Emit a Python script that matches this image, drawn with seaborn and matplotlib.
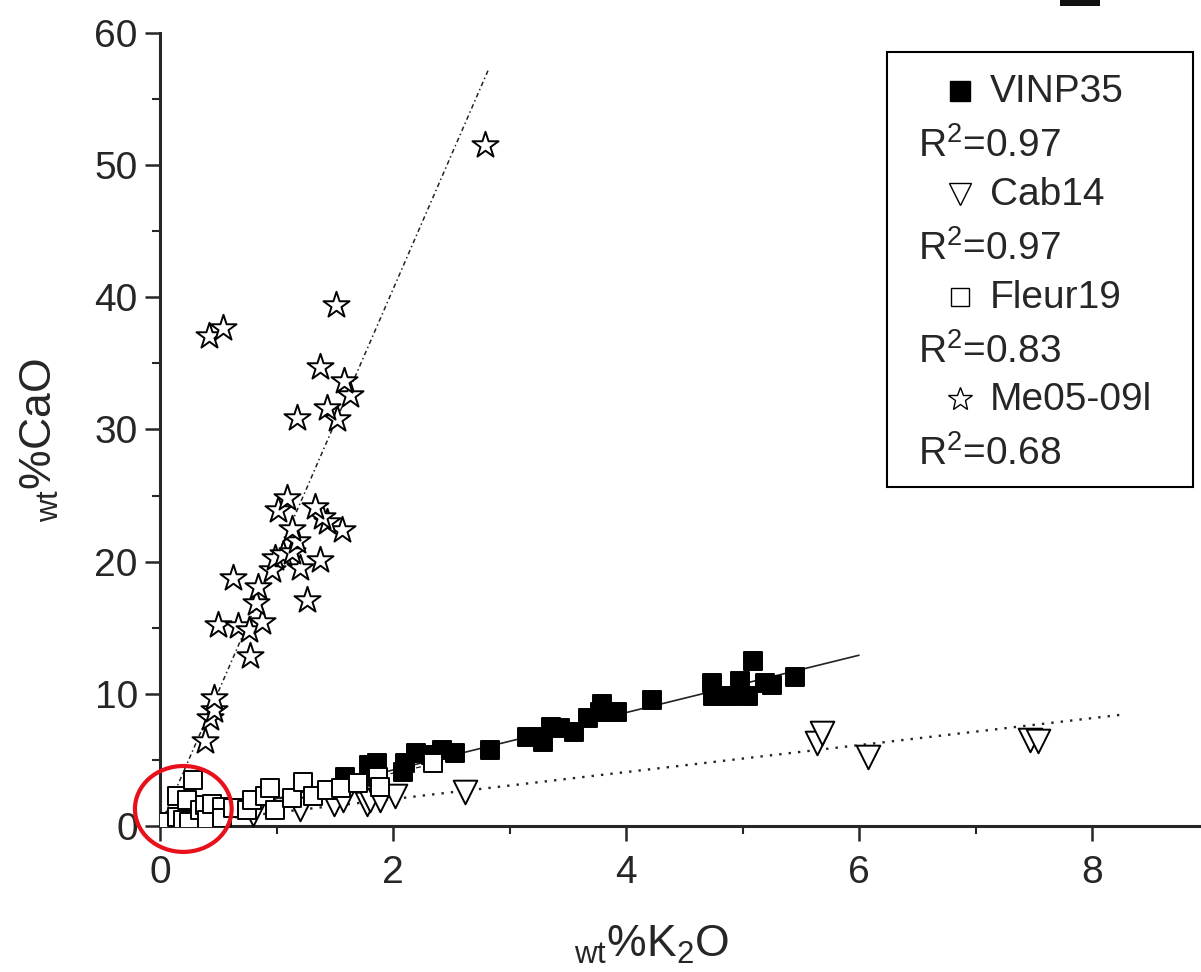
#%%
# CaO vs K2O scatter with linear fits for four sample sets
import numpy as np
import matplotlib.pyplot as plt
import seaborn as sns
from matplotlib.patches import Ellipse, Rectangle

sns.set_style('ticks')
plt.rcParams.update({'font.family': ['Liberation Sans', 'DejaVu Sans'],
                     'mathtext.fontset': 'custom', 'mathtext.rm': 'Liberation Sans',
                     'mathtext.it': 'Liberation Sans:italic', 'mathtext.bf': 'Liberation Sans:bold',
                     'axes.linewidth': 2.2, 'axes.spines.top': False, 'axes.spines.right': False,
                     'xtick.direction': 'out', 'ytick.direction': 'out'})

#%% data

vinp_k2o = [1.59, 1.79, 1.86, 2.09, 2.10, 2.20, 2.33, 2.42, 2.53, 2.83, 3.15, 3.28, 3.29, 3.36, 3.43,
            3.55, 3.67, 3.78, 3.79, 3.92, 4.22, 4.74, 4.75, 4.88, 4.98, 5.05, 5.09, 5.19, 5.25, 5.45]
vinp_cao = [3.7, 4.6, 4.8, 4.1, 4.8, 5.5, 5.4, 5.75, 5.5, 5.75, 6.7, 6.7, 6.35, 7.5, 7.4,
            7.1, 8.2, 8.6, 9.2, 8.6, 9.5, 10.8, 9.8, 9.8, 11.0, 9.8, 12.5, 10.8, 10.7, 11.3]

cab_k2o = [0.8, 1.2, 1.49, 1.57, 1.78, 1.80, 1.89, 2.02, 2.62, 5.64, 5.68, 6.08, 7.47, 7.54]
cab_cao = [0.9, 1.3, 1.7, 2.0, 1.7, 2.0, 2.0, 2.3, 2.6, 6.3, 7.0, 5.2, 6.5, 6.4]

fleur_k2o = [0.06, 0.15, 0.15, 0.20, 0.23, 0.25, 0.28, 0.34, 0.39, 0.40, 0.45, 0.53, 0.53, 0.63,
             0.75, 0.79, 0.90, 0.94, 0.99, 1.13, 1.23, 1.31, 1.43, 1.55, 1.70, 1.87, 1.89, 2.34]
fleur_cao = [0.3, 2.3, 0.7, 0.45, 2.0, 0.3, 3.5, 1.2, 1.6, 0.45, 1.7, 1.4, 0.6, 1.35,
             1.2, 2.0, 2.3, 2.9, 1.2, 2.1, 3.3, 2.3, 2.7, 2.9, 3.25, 3.7, 2.95, 4.75]

me_k2o = [0.39, 0.43, 0.46, 0.46, 0.50, 0.67, 0.76, 0.77, 0.875, 0.82, 0.84, 1.26, 0.63, 0.96,
          1.20, 1.37, 0.99, 1.06, 1.13, 1.18, 1.13, 1.56, 1.43, 1.39, 1.33, 1.01, 1.09,
          1.18, 1.52, 1.43, 1.63, 1.58, 1.37, 1.51, 0.42, 0.54, 2.79]
me_cao = [6.4, 8.2, 8.8, 9.7, 15.2, 15.1, 14.8, 12.9, 15.4, 16.9, 18.1, 17.1, 18.8, 19.4,
          19.5, 20.1, 20.3, 20.6, 20.7, 21.6, 22.5, 22.4, 23.0, 23.4, 24.1, 23.9, 24.8,
          30.9, 30.8, 31.6, 32.6, 33.7, 34.7, 39.4, 37.1, 37.7, 51.5]

# fitted lines: slope, intercept, x range
fit_slope = [2.17, 1.02, 2.0, 20.3]
fit_icpt = [-0.1, 0.0, 0.0, 0.0]
fit_xmax = [6.0, 8.25, 2.4, 2.82]

series_names = ['VINP35', 'Cab14', 'Fleur19', 'Me05-09l']
r2_labels = ['0.97', '0.97', '0.83', '0.68']

#%% plot

W, H = 1201, 972
fig = plt.figure(figsize=(W / 100, H / 100), dpi=100)
ax = fig.add_axes([160 / W, 1 - 826 / H, 1 - 160 / W, (826 - 33) / H])

def px(x, y):
    return x / W, 1 - y / H

styles = [dict(marker='s', s=180, color='black', edgecolor='black'),
          dict(marker='v', s=290, color='white', edgecolor='black'),
          dict(marker='s', s=175, color='white', edgecolor='black'),
          dict(marker='*', s=390, color='white', edgecolor='black')]
line_styles = [dict(ls='-', lw=1.2), dict(ls=(0, (1, 3)), lw=1.7), dict(ls=(0, (4, 3)), lw=0.9),
               dict(ls=(0, (3, 2, 1, 2)), lw=1.1)]

xs = [vinp_k2o, cab_k2o, fleur_k2o, me_k2o]
ys = [vinp_cao, cab_cao, fleur_cao, me_cao]

for i in range(4):
    xl = np.array([0.0, fit_xmax[i]])
    ax.plot(xl, fit_slope[i] * xl + fit_icpt[i], color='#222222', zorder=2, **line_styles[i])

for i in [0, 1, 3, 2]:
    sns.scatterplot(x=xs[i], y=ys[i], ax=ax, linewidth=1.4, zorder=3, legend=False, **styles[i])

ax.set_xlim(0, (W - 160) / 116.5)
ax.set_ylim(0, 60)
ax.set_xticks([0, 2, 4, 6, 8])
ax.set_xticks([1, 3, 5, 7], minor=True)
ax.set_yticks(np.arange(0, 61, 10))
ax.set_yticks(np.arange(5, 60, 10), minor=True)
ax.tick_params(which='major', length=11, width=1.8, labelsize=28, pad=5)
ax.tick_params(axis='x', which='major', pad=10)
ax.tick_params(which='minor', length=6, width=1.5)

fig.text(*px(40, 440), r'$_{\rm wt}$%CaO', rotation=90, ha='center', va='center', fontsize=32)
fig.text(*px(652, 945), r'$_{\rm wt}$%K$_2$O', ha='center', va='center', fontsize=32)

# red circle highlighting the low-concentration cluster
ax.add_patch(Ellipse((0.2, 1.29), 0.83, 6.5, fill=False, edgecolor='#e8111b', lw=3.0,
                     clip_on=False, zorder=5))

# legend box drawn by hand
x0, y0 = px(887, 487)
x1, y1 = px(1193, 52)
fig.patches.append(Rectangle((x0, y0), x1 - x0, y1 - y0, transform=fig.transFigure,
                             fill=False, edgecolor='black', lw=1.5))
leg_mk = [dict(marker='s', markersize=14, color='black', mec='black'),
          dict(marker='v', markersize=16, color='white', mec='black', mew=1.0),
          dict(marker='s', markersize=13, color='white', mec='black', mew=1.0),
          dict(marker='*', markersize=18, color='white', mec='black', mew=1.0)]
base = [102, 205, 308, 410]
for i in range(4):
    fig.text(*px(990, base[i]), series_names[i], fontsize=28, va='baseline')
    fig.add_artist(plt.Line2D([960 / W], [1 - (base[i] - 11) / H], transform=fig.transFigure,
                              **leg_mk[i]))
    fig.text(*px(918, base[i] + 55), r'R$^2$=' + r2_labels[i], fontsize=28, va='baseline')

# cropped panel mark at the top edge
xr, yr = px(1060, 6)
fig.patches.append(Rectangle((xr, yr), 40 / W, 6 / H, transform=fig.transFigure,
                             color='#111111', lw=0))

fig.savefig('out.png', dpi=100)
